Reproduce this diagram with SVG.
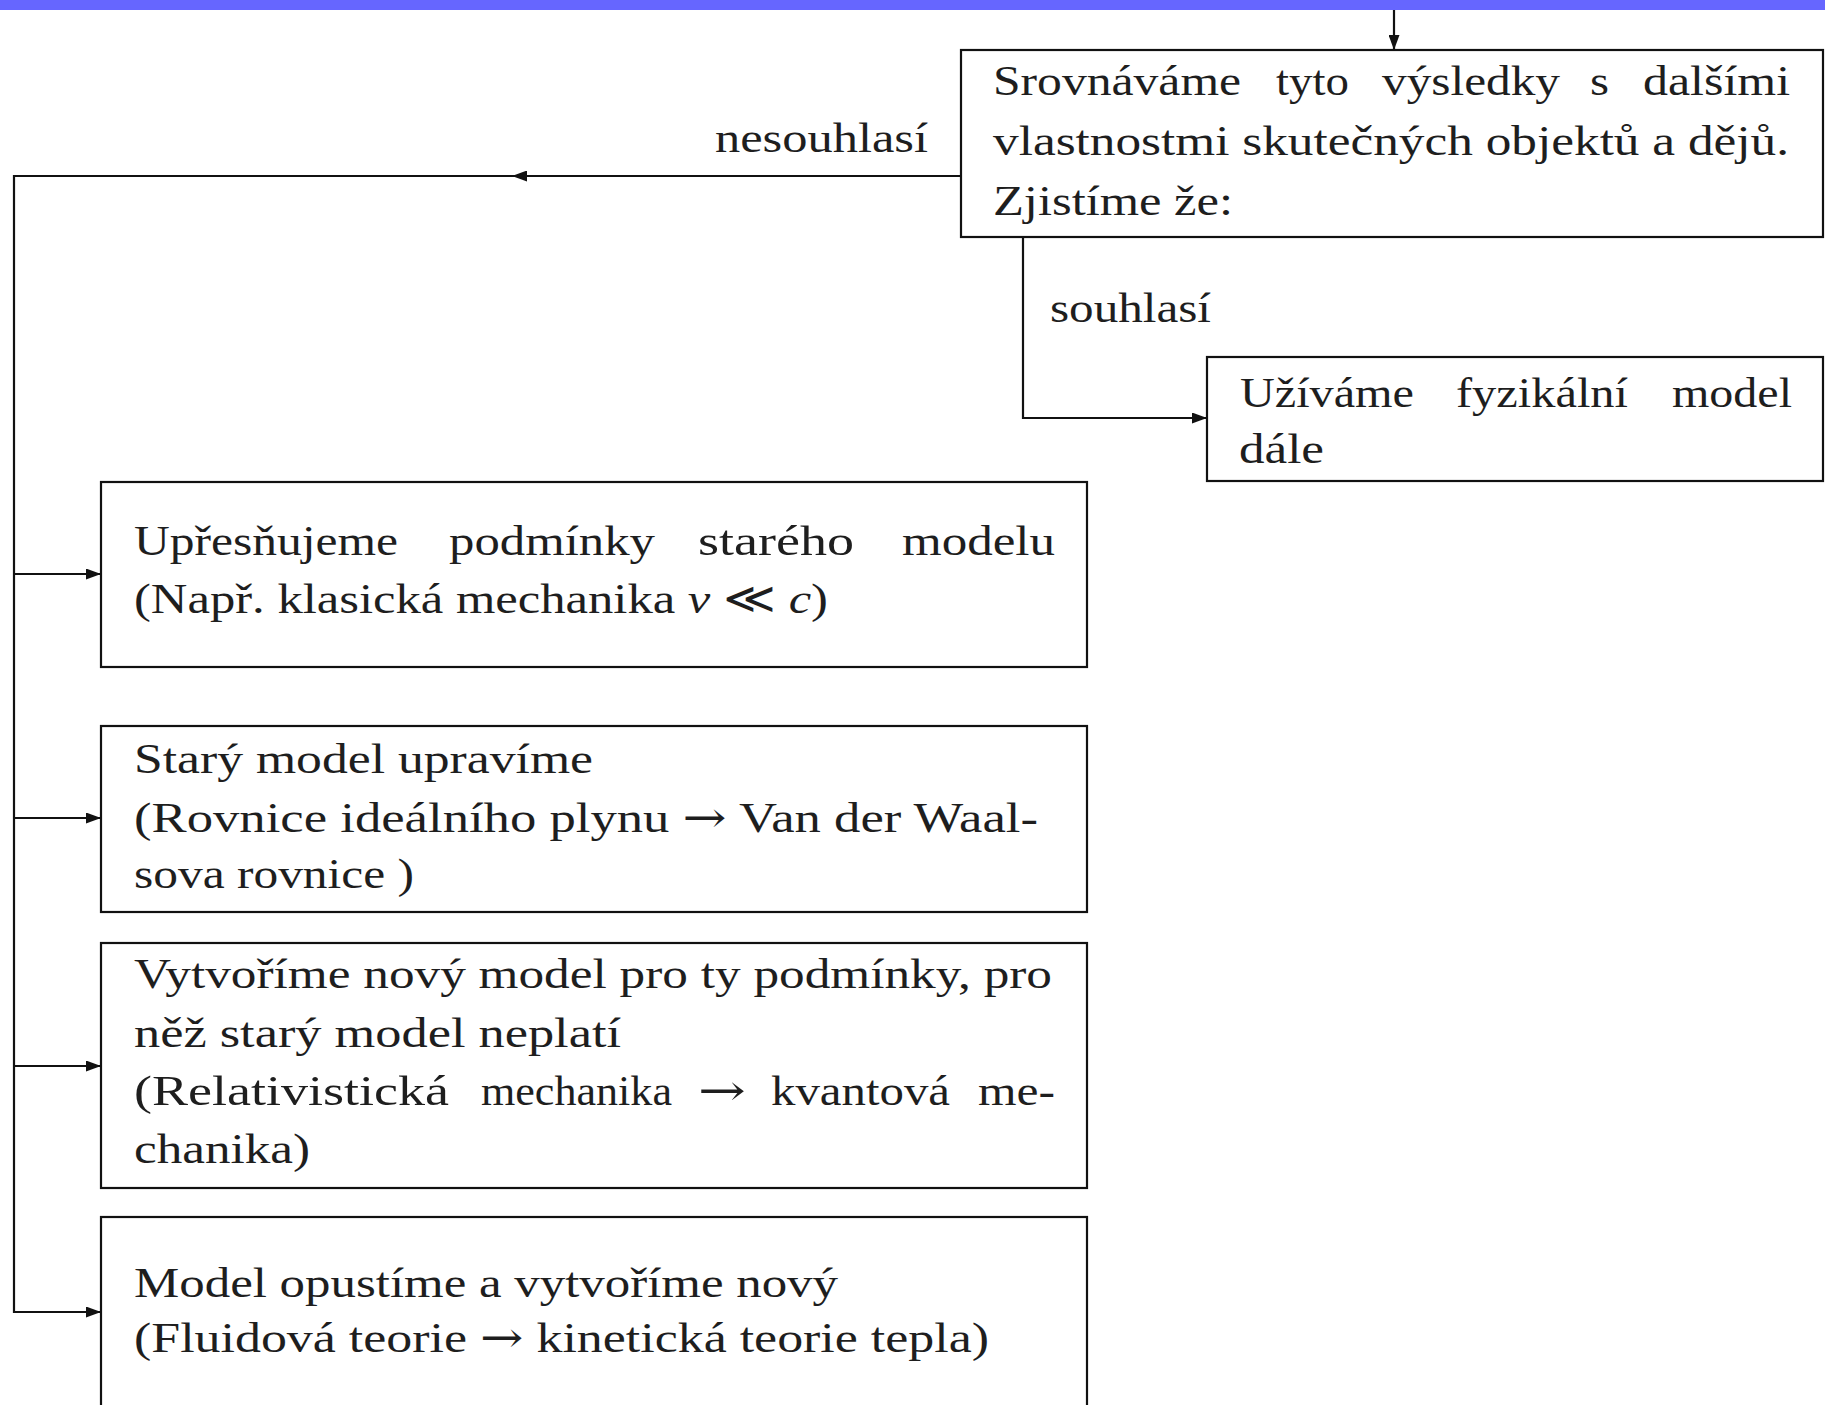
<svg xmlns="http://www.w3.org/2000/svg" width="1825" height="1405" viewBox="0 0 1825 1405">
<defs>
<style>
.box{fill:#fff;stroke:#111;stroke-width:2.2}
.conn{fill:none;stroke:#111;stroke-width:2.2}
.t{font-family:"Liberation Serif","Times New Roman",serif;font-size:43px;fill:#1e1e1e}
.i{font-style:italic}
.ar{font-family:"DejaVu Serif",serif}
</style>
<marker id="ah" viewBox="0 0 15 11" refX="15" refY="5.5" markerWidth="15" markerHeight="11" markerUnits="userSpaceOnUse" orient="auto">
<path d="M0,0 L15,5.5 L0,11 z" fill="#111"/>
</marker>
</defs>
<rect width="1825" height="1405" fill="#fff"/>
<rect x="0" y="0" width="1825" height="10" fill="#6666FF"/>

<g id="connectors">
<path class="conn" d="M1394,10 L1394,50" marker-end="url(#ah)"/>
<path class="conn" d="M961,176 L512,176" marker-end="url(#ah)"/>
<path class="conn" d="M514,176 L14,176 L14,1313"/>
<path class="conn" d="M1023,237 L1023,418 L1207,418" marker-end="url(#ah)"/>
<path class="conn" d="M14,574 L101,574" marker-end="url(#ah)"/>
<path class="conn" d="M14,818 L101,818" marker-end="url(#ah)"/>
<path class="conn" d="M14,1066 L101,1066" marker-end="url(#ah)"/>
<path class="conn" d="M14,1312 L101,1312" marker-end="url(#ah)"/>
<text class="t" x="715" y="152" textLength="213" lengthAdjust="spacingAndGlyphs">nesouhlasí</text>
<text class="t" x="1050" y="322" textLength="161" lengthAdjust="spacingAndGlyphs">souhlasí</text>
</g>

<g id="compare">
<rect class="box" x="961" y="50" width="862" height="187"/>
<text class="t" y="95"><tspan x="993" textLength="248" lengthAdjust="spacingAndGlyphs">Srovnáváme</tspan> <tspan x="1276" textLength="73" lengthAdjust="spacingAndGlyphs">tyto</tspan> <tspan x="1382" textLength="178" lengthAdjust="spacingAndGlyphs">výsledky</tspan> <tspan x="1590" textLength="19" lengthAdjust="spacingAndGlyphs">s</tspan> <tspan x="1643" textLength="147" lengthAdjust="spacingAndGlyphs">dalšími</tspan></text>
<text class="t" x="993" y="155" textLength="796" lengthAdjust="spacingAndGlyphs">vlastnostmi skutečných objektů a dějů.</text>
<text class="t" x="993" y="215" textLength="240" lengthAdjust="spacingAndGlyphs">Zjistíme že:</text>
</g>

<g id="use-model">
<rect class="box" x="1207" y="357" width="616" height="124"/>
<text class="t" y="407"><tspan x="1240" textLength="174" lengthAdjust="spacingAndGlyphs">Užíváme</tspan> <tspan x="1456" textLength="172" lengthAdjust="spacingAndGlyphs">fyzikální</tspan> <tspan x="1672" textLength="120" lengthAdjust="spacingAndGlyphs">model</tspan></text>
<text class="t" x="1239" y="463" textLength="85" lengthAdjust="spacingAndGlyphs">dále</text>
</g>

<g id="refine">
<rect class="box" x="101" y="482" width="986" height="185"/>
<text class="t" y="555"><tspan x="134" textLength="264" lengthAdjust="spacingAndGlyphs">Upřesňujeme</tspan> <tspan x="449" textLength="206" lengthAdjust="spacingAndGlyphs">podmínky</tspan> <tspan x="698" textLength="156" lengthAdjust="spacingAndGlyphs">starého</tspan> <tspan x="902" textLength="153" lengthAdjust="spacingAndGlyphs">modelu</tspan></text>
<text class="t" x="134" y="613" textLength="694" lengthAdjust="spacingAndGlyphs">(Např. klasická mechanika <tspan class="i">v</tspan> ≪ <tspan class="i">c</tspan>)</text>
</g>

<g id="modify">
<rect class="box" x="101" y="726" width="986" height="186"/>
<text class="t" x="134" y="773" textLength="459" lengthAdjust="spacingAndGlyphs">Starý model upravíme</text>
<text class="t" x="134" y="832" textLength="904" lengthAdjust="spacingAndGlyphs">(Rovnice ideálního plynu <tspan class="ar">→</tspan> Van der Waal-</text>
<text class="t" x="134" y="888" textLength="280" lengthAdjust="spacingAndGlyphs">sova rovnice )</text>
</g>

<g id="new-model">
<rect class="box" x="101" y="943" width="986" height="245"/>
<text class="t" x="134" y="988" textLength="918" lengthAdjust="spacingAndGlyphs">Vytvoříme nový model pro ty podmínky, pro</text>
<text class="t" x="134" y="1047" textLength="487" lengthAdjust="spacingAndGlyphs">něž starý model neplatí</text>
<text class="t" y="1105"><tspan x="134" textLength="315" lengthAdjust="spacingAndGlyphs">(Relativistická</tspan> <tspan x="481" textLength="191" lengthAdjust="spacingAndGlyphs">mechanika</tspan> <tspan class="ar" x="698" textLength="48" lengthAdjust="spacingAndGlyphs">→</tspan> <tspan x="771" textLength="179" lengthAdjust="spacingAndGlyphs">kvantová</tspan> <tspan x="978" textLength="77" lengthAdjust="spacingAndGlyphs">me-</tspan></text>
<text class="t" x="134" y="1163" textLength="176" lengthAdjust="spacingAndGlyphs">chanika)</text>
</g>

<g id="abandon">
<rect class="box" x="101" y="1217" width="986" height="220"/>
<text class="t" x="134" y="1297" textLength="704" lengthAdjust="spacingAndGlyphs">Model opustíme a vytvoříme nový</text>
<text class="t" x="134" y="1352" textLength="855" lengthAdjust="spacingAndGlyphs">(Fluidová teorie <tspan class="ar">→</tspan> kinetická teorie tepla)</text>
</g>
</svg>
